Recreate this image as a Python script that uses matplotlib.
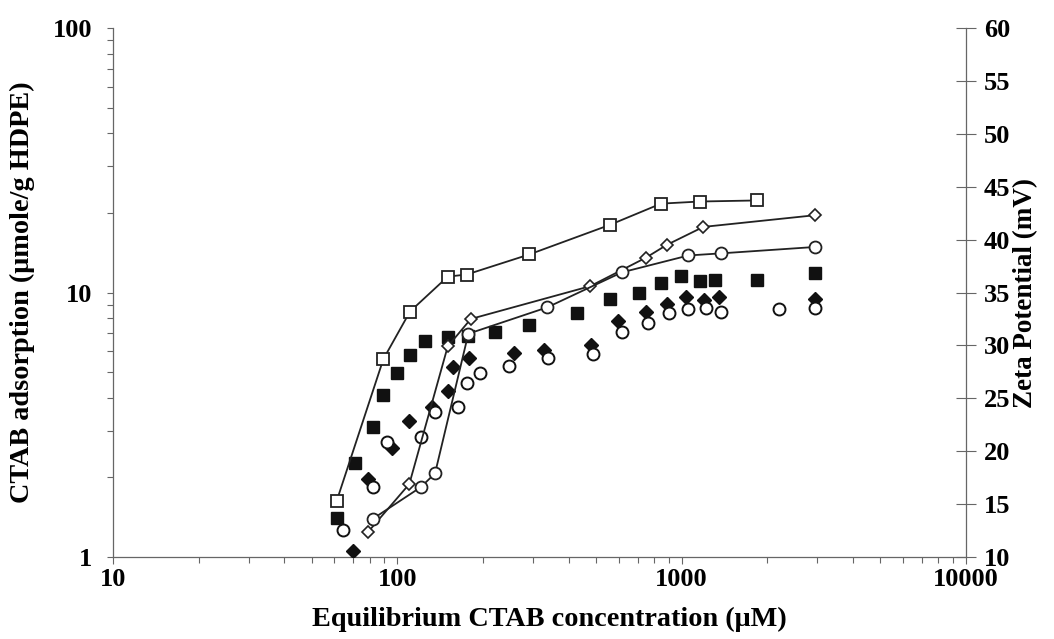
import matplotlib
matplotlib.use("Agg")
import matplotlib.pyplot as plt
from matplotlib.ticker import LogLocator, FixedLocator, NullFormatter, NullLocator

plt.rcParams['font.family'] = ['Liberation Serif', 'DejaVu Serif']
plt.rcParams['font.weight'] = 'bold'

# Adsorption (left axis, log) - filled squares
ads_sq_x = [61.2, 71.0, 82.3, 89.3, 100, 110.8, 125.2, 150.4, 177.7, 220.7, 291.3,
            428.7, 560.1, 708.5, 846.3, 992.7, 1160, 1311, 1838, 2935]
ads_sq_y = [1.41, 2.26, 3.11, 4.09, 4.98, 5.82, 6.54, 6.81, 6.85, 7.07, 7.52,
            8.40, 9.49, 9.96, 10.83, 11.54, 11.05, 11.15, 11.15, 11.82]

# Adsorption - filled diamonds
ads_di_x = [70.0, 79.1, 95.6, 110.2, 132.1, 150.4, 157.4, 179.2, 257.3, 328.9,
            478.9, 598.9, 749.8, 886.3, 1036, 1199, 1357, 2935]
ads_di_y = [1.05, 1.98, 2.58, 3.28, 3.68, 4.23, 5.23, 5.64, 5.89, 6.06,
            6.33, 7.82, 8.42, 9.05, 9.64, 9.37, 9.59, 9.43]

# Adsorption - open circles
ads_ci_x = [64.6, 81.9, 92.2, 120.9, 135.7, 163.9, 175.4, 195.9, 247.7, 339.7,
            489.1, 615.6, 760, 905, 1056, 1215, 1376, 2207, 2935]
ads_ci_y = [1.27, 1.84, 2.71, 2.84, 3.54, 3.68, 4.54, 4.95, 5.27, 5.64,
            5.85, 7.11, 7.65, 8.39, 8.64, 8.71, 8.46, 8.64, 8.71]

# Zeta potential (right axis) - open squares with line
zeta_sq_x = [61.2, 89.3, 110.8, 150.4, 175.4, 291.3, 560.1, 846.3, 1160, 1838]
zeta_sq_y = [15.3, 28.7, 33.2, 36.5, 36.7, 38.6, 41.4, 43.4, 43.6, 43.7]

# Zeta potential - open diamonds with line
zeta_di_x = [79.1, 110.2, 150.4, 181.3, 477, 749.8, 886.3, 1192, 2935]
zeta_di_y = [12.4, 16.9, 29.9, 32.5, 35.6, 38.3, 39.5, 41.2, 42.3]

# Zeta potential - open circles with line
zeta_ci_x = [81.9, 120.9, 135.7, 177.7, 337.0, 615.6, 1056, 1376, 2935]
zeta_ci_y = [13.6, 16.6, 17.9, 31.1, 33.6, 36.9, 38.5, 38.7, 39.3]

xticks = [10, 100, 1000, 10000]
xticklabels = ['10', '100', '1000', '10000']
yticks = [1, 10, 100]
yticklabels = ['1', '10', '100']
zticks = [10, 15, 20, 25, 30, 35, 40, 45, 50, 55, 60]

fig = plt.figure(figsize=(10.54, 6.39), dpi=100)
ax = fig.add_axes([113/1054, 1-557/639, (966-113)/1054, (557-28)/639])
ax2 = ax.twinx()

axis_col = '#666666'
fs_tick = 19
fs_lab = 20.3
fs_lab2 = 19.5

ax.set_xscale('log')
ax.set_yscale('log')
ax.set_xlim(10, 10000)
ax.set_ylim(1, 100)
ax2.set_ylim(10, 60)

ax.plot(ads_sq_x, ads_sq_y, ls='none', marker='s', ms=8.3, mfc='#111111', mec='#111111', zorder=3)
ax.plot(ads_di_x, ads_di_y, ls='none', marker='D', ms=7.2, mfc='#111111', mec='#111111', zorder=3)
ax.plot(ads_ci_x, ads_ci_y, ls='none', marker='o', ms=8.6, mfc='white', mec='#111111', mew=1.4, zorder=4)

ax2.plot(zeta_sq_x, zeta_sq_y, color='#222222', lw=1.3, marker='s', ms=9, mfc='white', mec='#222222', mew=1.3, zorder=3)
ax2.plot(zeta_di_x, zeta_di_y, color='#222222', lw=1.3, marker='D', ms=6.5, mfc='white', mec='#222222', mew=1.2, zorder=3)
ax2.plot(zeta_ci_x, zeta_ci_y, color='#222222', lw=1.3, marker='o', ms=8.6, mfc='white', mec='#222222', mew=1.3, zorder=3)

for a in (ax, ax2):
    a.spines['top'].set_visible(False)
    for s in ('left', 'right', 'bottom'):
        a.spines[s].set_color(axis_col)
        a.spines[s].set_linewidth(0.9)
ax.spines['right'].set_visible(False)
ax2.spines['left'].set_visible(False)
ax2.spines['bottom'].set_visible(False)

ax.xaxis.set_major_locator(FixedLocator(xticks))
ax.set_xticklabels(xticklabels)
ax.xaxis.set_minor_locator(LogLocator(base=10, subs=range(2, 10)))
ax.xaxis.set_minor_formatter(NullFormatter())
ax.yaxis.set_major_locator(FixedLocator(yticks))
ax.set_yticklabels(yticklabels)
ax.yaxis.set_minor_locator(LogLocator(base=10, subs=range(2, 10)))
ax.yaxis.set_minor_formatter(NullFormatter())

ax.tick_params(axis='x', which='major', direction='out', length=5, width=0.8, color=axis_col,
               labelsize=fs_tick, pad=3)
ax.tick_params(axis='x', which='minor', direction='out', length=4, width=0.8, color=axis_col)
ax.tick_params(axis='y', which='major', direction='out', length=4, width=0.8, color=axis_col,
               labelsize=fs_tick, pad=11)
ax.tick_params(axis='y', which='minor', direction='out', length=4, width=0.8, color=axis_col)

ax2.yaxis.set_major_locator(FixedLocator(zticks))
ax2.yaxis.set_minor_locator(NullLocator())
ax2.tick_params(axis='y', which='major', direction='inout', length=14, width=0.8, color=axis_col,
                labelsize=fs_tick, pad=6)

for lab in ax.get_xticklabels() + ax.get_yticklabels() + ax2.get_yticklabels():
    lab.set_fontweight('bold')

ax.set_xlabel('Equilibrium CTAB concentration (\u03bcM)', fontsize=fs_lab, fontweight='bold')
ax.xaxis.set_label_coords((549-113)/853, (557-619)/529)
ax.xaxis.label.set_va('center')
ax.set_ylabel('CTAB adsorption (\u03bcmole/g HDPE)', fontsize=fs_lab, fontweight='bold')
ax.yaxis.set_label_coords((22-113)/853, 0.5)
ax.yaxis.label.set_va('center')
ax2.set_ylabel('Zeta Potential (mV)', fontsize=fs_lab2, fontweight='bold', labelpad=2)

fig.savefig('out.png', dpi=100)
